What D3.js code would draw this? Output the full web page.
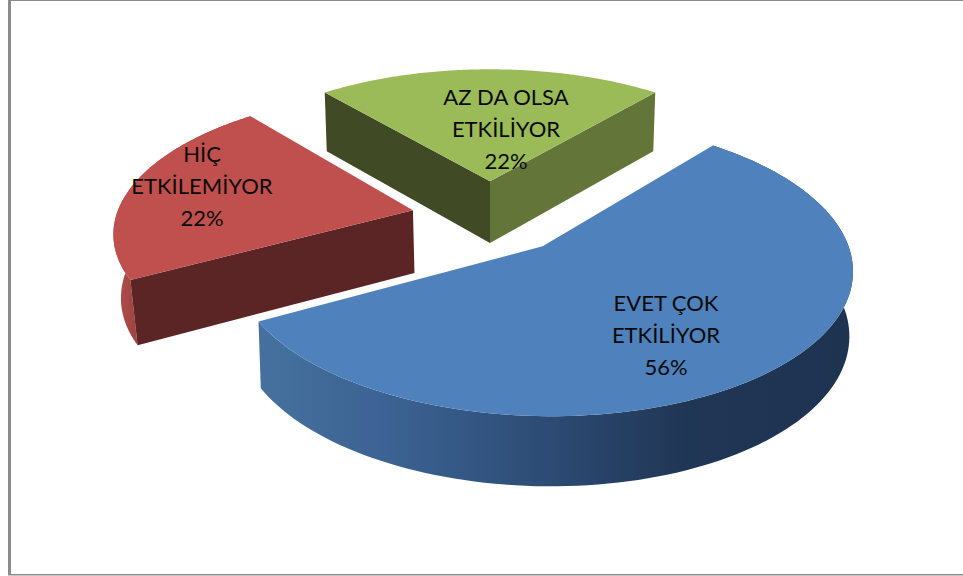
<!DOCTYPE html>
<html><head><meta charset="utf-8">
<style>html,body{margin:0;padding:0;background:#fff}svg{display:block}</style>
<script src="https://cdn.jsdelivr.net/npm/d3@7"></script></head>
<body><svg id="c" width="963" height="576"></svg>
<script>
const categories = ["EVET ÇOK ETKİLİYOR", "HİÇ ETKİLEMİYOR", "AZ DA OLSA ETKİLİYOR"];
const categoryLines = [["EVET ÇOK","ETKİLİYOR"],["HİÇ","ETKİLEMİYOR"],["AZ DA OLSA","ETKİLİYOR"]];
const values = [56, 22, 22];
const topColors = ["#4f81bd", "#c0504d", "#9bbb59"];

const W = 963, H = 576;
const svg = d3.select("#c");

// frame
const frame = svg.append("g").attr("fill","#8c8c8c");
frame.append("rect").attr("x",8).attr("y",0).attr("width",W-8).attr("height",1);
frame.append("rect").attr("x",8).attr("y",0).attr("width",3).attr("height",575);
frame.append("rect").attr("x",8).attr("y",574).attr("width",W-8).attr("height",1.5);

// gradient on the blue outer wall
const defs = svg.append("defs");
const grad = defs.append("linearGradient").attr("id","blueWall").attr("gradientUnits","userSpaceOnUse")
  .attr("x1",257).attr("x2",853).attr("y1",0).attr("y2",0);
[[0,"#46719f"],[0.25,"#3a6090"],[0.5,"#2c4a72"],[0.72,"#203655"],[1,"#1d3350"]]
  .forEach(s=>grad.append("stop").attr("offset",s[0]).attr("stop-color",s[1]));
const redGrad = defs.append("linearGradient").attr("id","redWall").attr("gradientUnits","userSpaceOnUse")
  .attr("x1",113).attr("x2",139).attr("y1",0).attr("y2",0);
[[0,"#b5504c"],[1,"#9c423f"]].forEach(s=>redGrad.append("stop").attr("offset",s[0]).attr("stop-color",s[1]));

// layout of the exploded tilted pie, with a perspective projection
const cx = 490, cy = 217, rx = 297, ry = 137, persp = 0.14;
const explodeBy = [0.27, 0.266, 0.27];
const insetBy = [0.99, 0.98, 0.988];
const scaleX = d3.scaleLinear().domain([0,1]).range([0,rx]);
const scaleY = d3.scaleLinear().domain([0,1]).range([0,ry]);
const persScale = y => 1/(1+persp*y);
const project = ([x,y]) => { const s = persScale(y); return [cx+scaleX(x)*s, cy-scaleY(y)*s]; };
const dropper = inset => ([x,y]) => { const s = persScale(y); const p = project([x,y]);
  return [cx+(p[0]-cx)*inset, p[1]+28+35*s]; };

const pie = d3.pie().sort(null).startAngle(39.6*Math.PI/180).endAngle((39.6+360)*Math.PI/180);
const arcs = pie(values);
const line = d3.line();

function slice(a,i){
  const mid = (a.startAngle+a.endAngle)/2;
  const o = [explodeBy[i]*Math.sin(mid), explodeBy[i]*Math.cos(mid)];
  const at = t => [o[0]+Math.sin(t), o[1]+Math.cos(t)];
  const rim = d3.range(0,121).map(k => at(a.startAngle+(a.endAngle-a.startAngle)*k/120));
  return {o, rim, drop:dropper(insetBy[i])};
}
function wall(s,pts){
  return line(pts.map(project).concat(pts.slice().reverse().map(s.drop)))+"Z";
}
function topFace(s){
  return line([project(s.o)].concat(s.rim.map(project)))+"Z";
}
const S = arcs.map(slice);
const sA = S[0], sB = S[1], sC = S[2];

// green (furthest)
const gGreen = svg.append("g");
gGreen.append("path").attr("d",wall(sC,[sC.rim[0],sC.o])).attr("fill","#404a24");
gGreen.append("path").attr("d",wall(sC,[sC.o,sC.rim[120]])).attr("fill","#637539");
gGreen.append("path").attr("d",topFace(sC)).attr("fill",topColors[2]);

// red
const gRed = svg.append("g");
gRed.append("path").attr("d",wall(sB,sB.rim)).attr("fill","url(#redWall)");
gRed.append("path").attr("d",wall(sB,[sB.o,sB.rim[0]])).attr("fill","#5a2524");
gRed.append("path").attr("d",topFace(sB)).attr("fill",topColors[1]);

// blue (nearest)
const gBlue = svg.append("g");
gBlue.append("path").attr("d",wall(sA,sA.rim)).attr("fill","url(#blueWall)");
gBlue.append("path").attr("d",topFace(sA)).attr("fill",topColors[0]);

// labels
const labelAnchors = [[666,311],[202,162],[506,105]];
const lineStep = 32;
const lab = svg.append("g").attr("font-family","Lato, 'Open Sans', sans-serif")
  .attr("font-size",22).attr("fill","#0a0a0a").attr("text-anchor","middle");
categories.forEach((c,i)=>{
  const t = lab.append("text").attr("x",labelAnchors[i][0]).attr("y",labelAnchors[i][1]);
  categoryLines[i].concat([values[i]+"%"]).forEach((s,j)=>{
    t.append("tspan").attr("x",labelAnchors[i][0]).attr("dy",j?lineStep:0).text(s);
  });
});
</script></body></html>
